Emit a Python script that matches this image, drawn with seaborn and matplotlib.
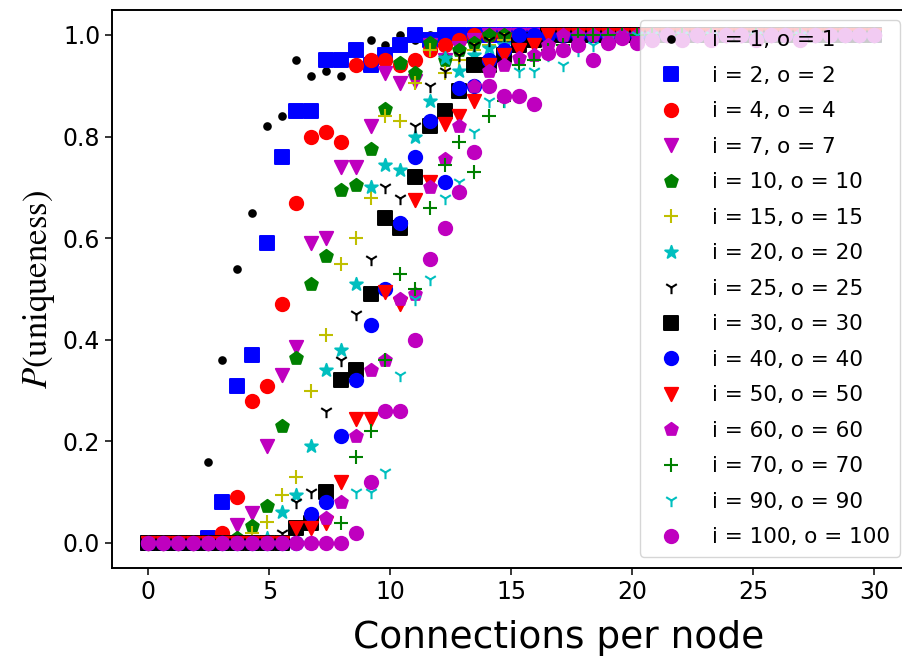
import numpy as np
import pandas as pd
import matplotlib
matplotlib.use("Agg")
import matplotlib.pyplot as plt
import seaborn as sns

# ---------------- data ----------------
connections = np.linspace(0, 30, 50)

labels = ["i = 1, o = 1", "i = 2, o = 2", "i = 4, o = 4", "i = 7, o = 7",
          "i = 10, o = 10", "i = 15, o = 15", "i = 20, o = 20", "i = 25, o = 25",
          "i = 30, o = 30", "i = 40, o = 40", "i = 50, o = 50", "i = 60, o = 60",
          "i = 70, o = 70", "i = 90, o = 90", "i = 100, o = 100"]

ONE = [1.0] * 30

p_1 = [0, 0, 0, 0, 0.16, 0.36, 0.54, 0.65, 0.82, 0.84, 0.95, 0.92, 0.93, 0.92, 0.97,
       0.99, 0.98, 1.0, 0.99, 1.0] + ONE
p_2 = [0, 0, 0, 0, 0.01, 0.08, 0.31, 0.37, 0.59, 0.76, 0.85, 0.85, 0.95, 0.95, 0.97,
       0.94, 0.96, 0.98, 1.0, 0.99] + ONE
p_4 = [0, 0, 0, 0, 0, 0.02, 0.09, 0.28, 0.31, 0.47, 0.67, 0.80, 0.81, 0.79, 0.94,
       0.95, 0.95, 0.94, 0.95, 0.97] + [0.98, 0.99] + [1.0] * 28
p_7 = [0, 0, 0, 0, 0, 0, 0.035, 0.06, 0.19, 0.33, 0.385, 0.59, 0.60, 0.74, 0.74,
       0.82, 0.925, 0.905, 0.91, 0.98] + [0.95, 0.975, 0.99] + [1.0] * 27
p_10 = [0, 0, 0, 0, 0, 0, 0.01, 0.033, 0.073, 0.23, 0.365, 0.51, 0.565, 0.695, 0.705,
        0.775, 0.855, 0.945, 0.925, 0.985] + [0.95, 0.97, 0.985] + [1.0] * 27
p_15 = [0, 0, 0, 0, 0, 0, 0, 0.02, 0.042, 0.094, 0.13, 0.30, 0.41, 0.55, 0.60,
        0.68, 0.84, 0.83, 0.905, 0.97] + [0.925, 0.95, 0.97, 0.98, 0.99] + [1.0] * 25
p_20 = [0, 0, 0, 0, 0, 0, 0, 0, 0.01, 0.062, 0.094, 0.19, 0.34, 0.38, 0.51,
        0.70, 0.745, 0.735, 0.80, 0.87] + [0.955, 0.93, 0.96, 0.975, 0.98, 0.99] + [1.0] * 24
p_25 = [0, 0, 0, 0, 0, 0, 0, 0, 0, 0.02, 0.08, 0.10, 0.26, 0.36, 0.45,
        0.56, 0.70, 0.68, 0.82, 0.90] + [0.93, 0.96, 0.98, 0.99] + [1.0] * 26
p_30 = [0, 0, 0, 0, 0, 0, 0, 0, 0, 0, 0.03, 0.04, 0.10, 0.32, 0.34,
        0.49, 0.64, 0.62, 0.72, 0.82] + [0.85, 0.89, 0.94, 0.94, 0.96, 0.98, 0.99] + [1.0] * 23
p_40 = [0, 0, 0, 0, 0, 0, 0, 0, 0, 0, 0, 0.058, 0.08, 0.21, 0.32,
        0.43, 0.50, 0.63, 0.76, 0.83] + [0.71, 0.895, 0.90, 0.95, 0.97] + [1.0] * 25
p_50 = [0, 0, 0, 0, 0, 0, 0, 0, 0, 0, 0.03, 0.03, 0.04, 0.12, 0.245,
        0.245, 0.495, 0.47, 0.675, 0.71] + [0.825, 0.84, 0.87, 0.94, 0.96, 0.97, 0.98] + [1.0] * 23
p_60 = [0, 0, 0, 0, 0, 0, 0, 0, 0, 0, 0, 0, 0.05, 0.08, 0.21,
        0.34, 0.36, 0.48, 0.49, 0.70] + [0.755, 0.82, 0.90, 0.93, 0.94, 0.955, 0.96, 0.98] + [1.0] * 22
p_70 = [0, 0, 0, 0, 0, 0, 0, 0, 0, 0, 0, 0, 0, 0.04, 0.17,
        0.22, 0.36, 0.53, 0.50, 0.66] + [0.745, 0.79, 0.73, 0.84, 0.87, 0.94, 0.95, 0.97, 0.98] + [1.0] * 21
p_90 = [0, 0, 0, 0, 0, 0, 0, 0, 0, 0, 0, 0, 0, 0, 0.10,
        0.10, 0.14, 0.33, 0.48, 0.52] + [0.68, 0.71, 0.81, 0.87, 0.87, 0.93, 0.93, 0.96, 0.94, 0.97,
                                         0.98, 0.99] + [1.0] * 18
p_100 = [0, 0, 0, 0, 0, 0, 0, 0, 0, 0, 0, 0, 0, 0, 0.02,
         0.12, 0.26, 0.26, 0.40, 0.56] + [0.62, 0.69, 0.77, 0.90, 0.88, 0.88, 0.865, 0.965, 0.97, 0.98,
                                          0.95, 0.985, 0.995, 0.985, 0.99, 1.0, 0.99, 1.0, 0.99, 1.0,
                                          1.0, 0.99, 1.0, 1.0, 0.99, 1.0, 1.0, 1.0, 1.0, 1.0]

series = [p_1, p_2, p_4, p_7, p_10, p_15, p_20, p_25, p_30, p_40, p_50, p_60, p_70, p_90, p_100]

# ---------------- style ----------------
markers = [".", "s", "o", "v", "p", "+", "*", "1", "s", "o", "v", "p", "+", "1", "o"]
colors = ["k", "b", "r", "m", "g", "y", "c", "k", "k", "b", "r", "m", "g", "c", "m"]

sns.set_style("ticks")
plt.rcParams["font.family"] = ["DejaVu Sans"]
plt.rcParams["mathtext.fontset"] = "stix"
plt.rcParams["text.color"] = "black"
plt.rcParams["axes.labelcolor"] = "black"
plt.rcParams["xtick.color"] = "black"
plt.rcParams["ytick.color"] = "black"

fig = plt.figure(figsize=(9.02, 6.59), dpi=100)
ax = fig.add_axes([112 / 902, 1 - 568.4 / 659, 798.6 / 902, 558.8 / 659])

ms = 9.6
for vals, lab, mk, col in zip(series, labels, markers, colors):
    df = pd.DataFrame({"x": connections, "y": vals})
    filled = mk not in ("+", "1")
    kw = dict(marker=mk, color=col, s=ms ** 2, label=lab, ax=ax, zorder=3)
    if filled:
        kw.update(edgecolor=col, linewidth=1.4)
    else:
        kw.update(linewidth=1.5)
    sns.scatterplot(data=df, x="x", y="y", **kw)

ax.set_xlim(-1.5, 31.5)
ax.set_ylim(-0.05, 1.05)
ax.set_xticks([0, 5, 10, 15, 20, 25, 30])
ax.set_yticks([0.0, 0.2, 0.4, 0.6, 0.8, 1.0])
ax.set_yticklabels(["0.0", "0.2", "0.4", "0.6", "0.8", "1.0"])
ax.tick_params(axis="both", labelsize=17, length=5, width=1.1, direction="out",
               colors="black")
for sp in ax.spines.values():
    sp.set_visible(True)
    sp.set_linewidth(1.4)
    sp.set_color("black")

ax.set_xlabel("Connections per node", fontsize=27)
ax.xaxis.set_label_coords(0.5597, -0.093)
ax.set_ylabel(r"$P(\mathrm{uniqueness})$", fontsize=25, labelpad=4)

leg = ax.legend(loc="upper right", fontsize=15.5, frameon=True, framealpha=0.8,
                edgecolor="0.8", fancybox=True, scatteryoffsets=[0.5],
                labelspacing=0.72, handletextpad=0.9, borderpad=0.45)

fig.savefig("out.png", dpi=100)
